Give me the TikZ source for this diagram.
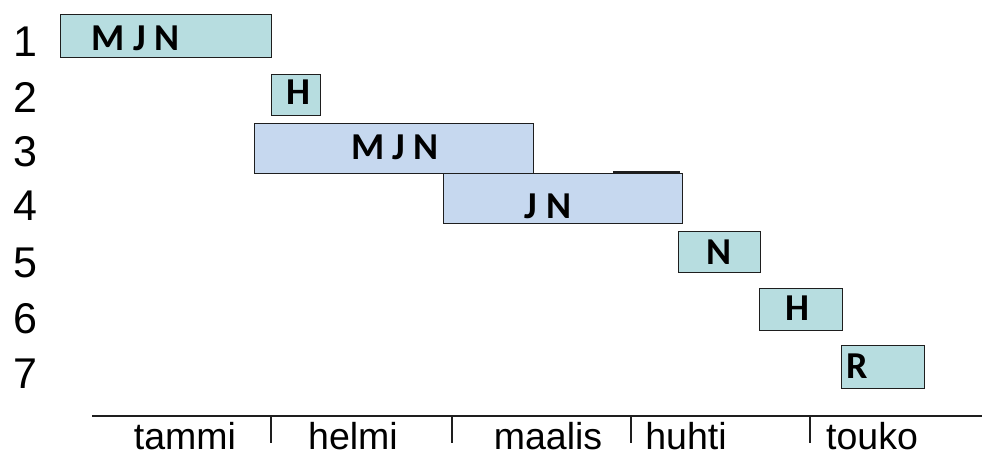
\documentclass[tikz,border=0pt]{standalone}
\usepackage{fontspec}
\setmainfont{Liberation Sans}
\newfontfamily\barfont{Carlito}
\definecolor{tealfill}{HTML}{B7DDE0}
\definecolor{bluefill}{HTML}{C6D8EF}
\definecolor{edge}{HTML}{1E1E1E}
\begin{document}
\begin{tikzpicture}[x=1pt,y=-1pt,
  bar/.style={draw=edge,line width=1.4pt,inner sep=0pt,anchor=north west},
  tealbar/.style={bar,fill=tealfill},
  bluebar/.style={bar,fill=bluefill},
  barlabel/.style={font=\barfont\bfseries\fontsize{38}{38}\selectfont,inner sep=0pt,anchor=base},
  rowlabel/.style={font=\fontsize{43}{43}\selectfont,inner sep=0pt,anchor=base},
  month/.style={font=\fontsize{37.5}{37.5}\selectfont,inner sep=0pt,anchor=base},
  axis/.style={draw=edge,line width=1.6pt},
  tick/.style={draw=edge,line width=1.1pt}]
\useasboundingbox (0,0) rectangle (982,458);
\fill[white] (0,0) rectangle (982,458);

% row numbers
\node[rowlabel] (r1) at (25,56) {1};
\node[rowlabel] (r2) at (25,112) {2};
\node[rowlabel] (r3) at (25,166) {3};
\node[rowlabel] (r4) at (25,220) {4};
\node[rowlabel] (r5) at (25,277) {5};
\node[rowlabel] (r6) at (25,333) {6};
\node[rowlabel] (r7) at (25,388) {7};

% task bars
\node[tealbar,minimum width=211pt,minimum height=43pt] (b1) at (60,14) {};
\node[tealbar,minimum width=49pt,minimum height=41pt] (b2) at (271,74) {};
\node[bluebar,minimum width=279pt,minimum height=50pt] (b3) at (254,123) {};
\node[bluebar,minimum width=239pt,minimum height=50pt] (b4) at (443,173) {};
\draw[edge,line width=2.4pt] (613,172.5) -- (680,172.5);
\node[tealbar,minimum width=82pt,minimum height=41pt] (b5) at (678,231) {};
\node[tealbar,minimum width=83pt,minimum height=42pt] (b6) at (759,288) {};
\node[tealbar,minimum width=83pt,minimum height=43pt] (b7) at (841,345) {};

% bar labels
\node[barlabel] (t1) at (136,50) {M J N};
\node[barlabel] (t2) at (298,104) {H};
\node[barlabel] (t3) at (395,159) {M J N};
\node[barlabel] (t4) at (548,218) {J N};
\node[barlabel] (t5) at (719,264) {N};
\node[barlabel] (t6) at (797,320) {H};
\node[barlabel] (t7) at (857,378) {R};

% time axis
\coordinate (axL) at (92,416);
\coordinate (axR) at (982,416);
\draw[axis] (axL) -- (axR);
\foreach \tx [count=\i] in {271,452,631,810}{
  \coordinate (tk\i a) at (\tx,416);
  \coordinate (tk\i b) at (\tx,443);
  \draw[tick] (tk\i a) -- (tk\i b);
}

% month names
\node[month] (m1) at (185,449) {tammi};
\node[month] (m2) at (353,449) {helmi};
\node[month] (m3) at (548,449) {maalis};
\node[month] (m4) at (686,449) {huhti};
\node[month] (m5) at (872,449) {touko};
\end{tikzpicture}
\end{document}
